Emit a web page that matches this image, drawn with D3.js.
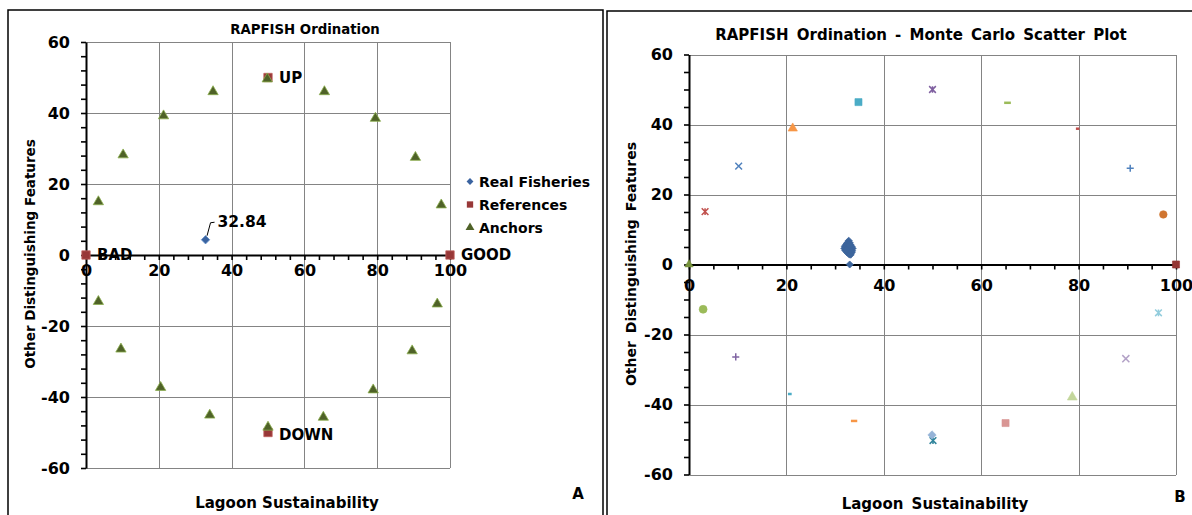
<!DOCTYPE html>
<html>
<head>
<meta charset="utf-8">
<script src="https://cdnjs.cloudflare.com/ajax/libs/d3/7.8.5/d3.min.js"></script>
<style>
  body { margin: 0; background: #fff; }
  svg { display: block; font-family: "DejaVu Sans", Verdana, sans-serif; font-weight: bold; }
  .grid line { stroke: #848484; stroke-width: 1; shape-rendering: crispEdges; }
  .grid .domain { display: none; }
  .ticks .domain { stroke: #000; stroke-width: 2; }
  .ticks line { stroke: #000; stroke-width: 1.6; }
  .labels .domain { display: none; }
  .labels text { fill: #000; font-size: 16px; font-weight: bold; font-family: "DejaVu Sans", Verdana, sans-serif; }
</style>
</head>
<body>
<svg width="1192" height="515"></svg>
<script>
// axis ticks (both panels)
var xTicks = [0, 20, 40, 60, 80, 100];
var yTicks = [-60, -40, -20, 0, 20, 40, 60];

// panel A
var realFisheries = [[32.84, 4.3]];
var references = [[0, 0], [100, 0], [50, 50], [50, -50]];
var referenceNames = ["BAD", "GOOD", "UP", "DOWN"];
var anchors = [
  [3.4, 15.0], [10.2, 28.2], [21.3, 39.2], [34.9, 46.0], [49.8, 49.6],
  [65.5, 46.0], [79.5, 38.5], [90.5, 27.5], [97.6, 14.1],
  [3.4, -13.1], [9.6, -26.5], [20.5, -37.3], [34.0, -45.1], [50.0, -48.5],
  [65.2, -45.7], [78.9, -38.0], [89.6, -27.0], [96.5, -13.8]
];
var legendNames = ["Real Fisheries", "References", "Anchors"];

// panel B : monte carlo runs of the fishery
var mcRuns = [
  [32.8, 6.8], [32.6, 6.3], [33.0, 6.2], [32.3, 5.8], [32.8, 5.7], [33.2, 5.6],
  [32.0, 5.2], [32.5, 5.1], [33.0, 5.0], [33.4, 5.1], [31.9, 4.6], [32.4, 4.5],
  [32.9, 4.4], [33.3, 4.5], [33.6, 4.6], [32.1, 4.0], [32.6, 3.9], [33.1, 3.8],
  [33.5, 3.9], [32.5, 3.4], [33.0, 3.3], [33.4, 3.4], [32.9, 2.9], [33.2, 2.8],
  [32.7, 4.8], [33.1, 4.1], [32.3, 4.2], [33.0, 5.4], [33.0, 0.0]
];
// panel B : one series per reference / anchor
var mcSeries = [
  [0, 0], [100, 0], [50, 50], [50.1, -50.3], [49.9, -48.7],
  [3.3, 15.1], [10.2, 28.1], [21.3, 38.9], [34.8, 46.4], [65.4, 46.2],
  [79.8, 38.8], [90.6, 27.5], [97.4, 14.3],
  [2.9, -12.8], [9.6, -26.4], [20.7, -37.0], [33.9, -44.7], [65.0, -45.3],
  [78.7, -37.9], [89.7, -26.9], [96.4, -13.8]
];
// marker style for each series above
var mcStyle = [
  ["triangle", "#77933C", 30], ["square", "#953735", 50], ["star", "#7F5FA0", 45],
  ["star", "#31859C", 45], ["diamond", "#95B3D7", 45],
  ["star", "#C0504D", 45], ["x", "#4F81BD", 45], ["triangle", "#F79646", 38],
  ["square", "#4BACC6", 50], ["dash", "#9BBB59", 45], ["dash", "#C0504D", 12],
  ["plus", "#4F81BD", 50], ["circle", "#D07530", 45],
  ["circle", "#9BBB59", 50], ["plus", "#8064A2", 50], ["dash", "#4BACC6", 14],
  ["dash", "#F79646", 40], ["square", "#D99694", 50],
  ["triangle", "#C3D69B", 42], ["x", "#B3A2C7", 50], ["star", "#93CDDD", 45]
];

var svg = d3.select("svg");

// excel-like marker shapes for d3.symbol
var shapes = {
  diamond: { draw: function(c, s) { var r = Math.sqrt(s) / 1.6;
    c.moveTo(0, -r); c.lineTo(r, 0); c.lineTo(0, r); c.lineTo(-r, 0); c.closePath(); } },
  square: d3.symbolSquare,
  triangle: d3.symbolTriangle,
  circle: d3.symbolCircle,
  x: { draw: function(c, s) { var r = Math.sqrt(s) / 2;
    c.moveTo(-r, -r); c.lineTo(r, r); c.moveTo(r, -r); c.lineTo(-r, r); } },
  plus: { draw: function(c, s) { var r = Math.sqrt(s) / 2;
    c.moveTo(-r, 0); c.lineTo(r, 0); c.moveTo(0, -r); c.lineTo(0, r); } },
  star: { draw: function(c, s) { var r = Math.sqrt(s) / 2;
    c.moveTo(-r, -r); c.lineTo(r, r); c.moveTo(r, -r); c.lineTo(-r, r);
    c.moveTo(0, -r); c.lineTo(0, r); } },
  dash: { draw: function(c, s) { var r = Math.sqrt(s) / 2;
    c.moveTo(-r, 0); c.lineTo(r, 0); } }
};
var stroked = { x: 1, plus: 1, star: 1, dash: 1 };

function symbolPath(shape, size) {
  return d3.symbol().type(shapes[shape]).size(size)();
}

function drawPoints(g, pts, x, y, shape, size, fill, edge) {
  g.selectAll(null)
    .data(pts)
    .enter().append("path")
      .attr("transform", function(d) { return "translate(" + x(d[0]) + "," + y(d[1]) + ")"; })
      .attr("d", symbolPath(shape, size))
      .attr("fill", fill)
      .attr("stroke", edge)
      .attr("stroke-width", 0.8);
}

function drawPanel(o) {
  var g = svg.append("g");

  var x = d3.scaleLinear().domain([0, 100]).range([o.left, o.right]);
  var y = d3.scaleLinear().domain([-60, 60]).range([o.bottom, o.top]);

  // grid (also gives the plot border)
  g.append("g")
    .attr("class", "grid")
    .attr("transform", "translate(0," + o.bottom + ")")
    .call(d3.axisBottom(x).tickValues(xTicks).tickSize(-(o.bottom - o.top)).tickFormat(""));
  g.append("g")
    .attr("class", "grid")
    .attr("transform", "translate(" + o.left + ",0)")
    .call(d3.axisLeft(y).tickValues(yTicks).tickSize(-(o.right - o.left)).tickFormat(""));

  // axis lines with minor ticks
  g.append("g")
    .attr("class", "ticks")
    .attr("transform", "translate(0," + y(0) + ")")
    .call(d3.axisBottom(x).tickValues(d3.range(0, 101, o.minor)).tickSize(5).tickSizeOuter(0).tickFormat(""));
  g.append("g")
    .attr("class", "ticks")
    .attr("transform", "translate(" + x(0) + ",0)")
    .call(d3.axisLeft(y).tickValues(d3.range(-60, 61, o.minor)).tickSize(5).tickSizeOuter(0).tickFormat(""));

  // tick labels
  g.append("g")
    .attr("class", "labels")
    .attr("transform", "translate(0," + y(0) + ")")
    .call(d3.axisBottom(x).tickValues(xTicks).tickSize(0).tickPadding(o.xPad).tickFormat(function(d) { return String(d); }))
    .selectAll("line").remove();
  g.append("g")
    .attr("class", "labels")
    .attr("transform", "translate(" + x(0) + ",0)")
    .call(d3.axisLeft(y).tickValues(yTicks).tickSize(0).tickPadding(16).tickFormat(function(d) { return String(d); }))
    .selectAll("line").remove();

  // titles
  g.append("text")
    .attr("x", o.titleX).attr("y", o.titleY)
    .attr("text-anchor", "middle").attr("dominant-baseline", "central")
    .style("font-size", o.titleSize + "px").style("word-spacing", o.wordSpace + "px")
    .text(o.title);
  g.append("text")
    .attr("x", o.xTitleX).attr("y", o.xTitleY)
    .attr("text-anchor", "middle").attr("dominant-baseline", "central")
    .style("font-size", o.xTitleSize + "px").style("word-spacing", o.wordSpace + "px")
    .text("Lagoon Sustainability");
  g.append("text")
    .attr("transform", "translate(" + o.yTitleX + "," + o.yTitleY + ") rotate(-90)")
    .attr("text-anchor", "middle").attr("dominant-baseline", "central")
    .style("font-size", o.yTitleSize + "px").style("word-spacing", o.wordSpace + "px")
    .text("Other Distinguishing Features");
  g.append("text")
    .attr("x", o.letterX).attr("y", o.letterY)
    .attr("text-anchor", "middle").attr("dominant-baseline", "central")
    .style("font-size", "15px")
    .text(o.letter);

  return { g: g, x: x, y: y };
}

// frames
svg.append("path")
  .attr("d", "M8,520 V10 H603 V520")
  .attr("fill", "none").attr("stroke", "#000").attr("stroke-width", 1.5);
svg.append("path")
  .attr("d", "M607,520 V11 H1200")
  .attr("fill", "none").attr("stroke", "#000").attr("stroke-width", 1.5);

// ---- panel A
var A = drawPanel({
  left: 86, right: 450, top: 42, bottom: 468, minor: 4, xPad: 10,
  title: "RAPFISH Ordination", titleX: 305, titleY: 29, titleSize: 13.3, wordSpace: 0,
  xTitleX: 287, xTitleY: 503, xTitleSize: 15, yTitleX: 30, yTitleY: 254, yTitleSize: 13.5,
  letter: "A", letterX: 578, letterY: 494
});

drawPoints(A.g, realFisheries, A.x, A.y, "diamond", 45, "#3A63A0", "#5F8DC8");
drawPoints(A.g, references, A.x, A.y, "square", 70, "#983838", "#C0605C");
drawPoints(A.g, anchors, A.x, A.y, "triangle", 46, "#4F6228", "#8BAE4E");

A.g.selectAll(null)
  .data(references)
  .enter().append("text")
    .attr("x", function(d) { return A.x(d[0]) + 11; })
    .attr("y", function(d) { return A.y(d[1]) + (d[1] < 0 ? 2 : 0); })
    .attr("dominant-baseline", "central")
    .style("font-size", "15px")
    .text(function(d, i) { return referenceNames[i]; });

// value label with leader line
var rf = realFisheries[0];
A.g.append("path")
  .attr("d", "M" + (A.x(rf[0]) + 1.5) + "," + (A.y(rf[1]) - 4) +
             "L" + (A.x(rf[0]) + 5) + "," + (A.y(rf[1]) - 17) +
             "L" + (A.x(rf[0]) + 9) + "," + (A.y(rf[1]) - 17.5))
  .attr("fill", "none").attr("stroke", "#000").attr("stroke-width", 1);
A.g.append("text")
  .attr("x", A.x(rf[0]) + 12).attr("y", A.y(rf[1]) - 17.5)
  .attr("dominant-baseline", "central")
  .style("font-size", "15.5px")
  .text(d3.format(".2f")(rf[0]));

// legend
var legendShapes = [["diamond", 30, "#3A63A0"], ["square", 40, "#983838"], ["triangle", 34, "#4F6228"]];
var legend = A.g.selectAll(".legend")
  .data(legendNames)
  .enter().append("g")
    .attr("class", "legend")
    .attr("transform", function(d, i) { return "translate(470," + (181.5 + i * 23) + ")"; });
legend.append("path")
  .attr("d", function(d, i) { return symbolPath(legendShapes[i][0], legendShapes[i][1]); })
  .attr("fill", function(d, i) { return legendShapes[i][2]; });
legend.append("text")
  .attr("x", 9).attr("dominant-baseline", "central")
  .style("font-size", "14px")
  .text(function(d) { return d; });

// ---- panel B
var B = drawPanel({
  left: 689, right: 1176, top: 54.5, bottom: 474.5, minor: 5, xPad: 15,
  title: "RAPFISH Ordination - Monte Carlo Scatter Plot", titleX: 921, titleY: 35, titleSize: 15, wordSpace: 3,
  xTitleX: 935, xTitleY: 504, xTitleSize: 15, yTitleX: 631, yTitleY: 264, yTitleSize: 14,
  letter: "B", letterX: 1180, letterY: 497
});

mcSeries.forEach(function(p, i) {
  var s = mcStyle[i];
  B.g.append("path")
    .datum(p)
    .attr("transform", "translate(" + B.x(p[0]) + "," + B.y(p[1]) + ")")
    .attr("d", symbolPath(s[0], s[2]))
    .attr("fill", stroked[s[0]] ? "none" : s[1])
    .attr("stroke", s[1])
    .attr("stroke-width", stroked[s[0]] ? (s[0] === "dash" ? 2.5 : 1.5) : 0.6);
});

drawPoints(B.g, mcRuns, B.x, B.y, "diamond", 32, "#3C659C", "#3C659C");
</script>
</body>
</html>
